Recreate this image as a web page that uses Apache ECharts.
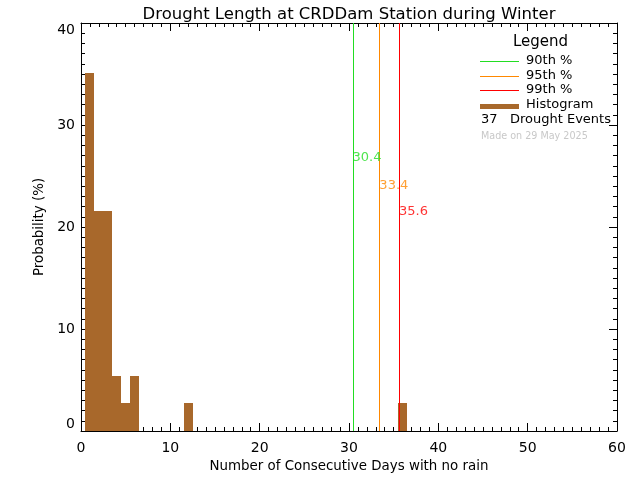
<!DOCTYPE html>
<html><head><meta charset="utf-8">
<script src="https://cdn.jsdelivr.net/npm/echarts@6/dist/echarts.min.js"></script>
<style>html,body{margin:0;padding:0;background:#fff}#c{width:640px;height:480px}</style>
</head><body><div id="c"></div>
<script>
const titleText = 'Drought Length at CRDDam Station during Winter';
const xName = 'Number of Consecutive Days with no rain';
const yName = 'Probability (%)';
const days = [1, 2, 3, 4, 5, 6, 12, 36];
const probs = [35.1, 21.6, 21.6, 5.4, 2.7, 5.4, 2.7, 2.7];
const pctNames = ['90th %', '95th %', '99th %'];
const pctValues = [30.4, 33.4, 35.6];
const pctColors = ['#22DD22', '#FF8800', '#FF0000'];
const pctLabelY = [26.8, 24.1, 21.5];
const eventCount = 37;
const madeOn = 'Made on 29 May 2025';

const FONT = 'DejaVu Sans';
const BROWN = '#A8682B';
const chart = echarts.init(document.getElementById('c'), null, {renderer: 'canvas'});

const series = [{
  type: 'custom',
  xAxisIndex: 0, yAxisIndex: 0,
  data: days.map((d, i) => [d, probs[i]]),
  renderItem: function (params, api) {
    const x = api.value(0), y = api.value(1);
    const p1 = api.coord([x - 0.5, y]);
    const p2 = api.coord([x + 0.5, 0]);
    const x1 = Math.round(p1[0]), x2 = Math.round(p2[0]);
    const y1 = Math.round(p1[1]), y2 = Math.round(p2[1]);
    return {type: 'rect', shape: {x: x1, y: y1, width: x2 - x1, height: y2 - y1},
      style: {fill: BROWN, stroke: null, lineWidth: 0}};
  },
  z: 2
}];
pctValues.forEach((v, i) => {
  series.push({
    type: 'custom', data: [[v]], silent: true, z: 3,
    itemStyle: {color: pctColors[i]},
    renderItem: function (params, api) {
      const top = api.coord([api.value(0), 40]);
      const bot = api.coord([api.value(0), 0]);
      const x = Math.round(top[0]) + 0.5;
      return {type: 'line', shape: {x1: x, y1: top[1], x2: x, y2: bot[1]},
        style: {stroke: pctColors[i], lineWidth: 1, fill: null}};
    }
  });
  series.push({
    type: 'scatter', data: [[v, pctLabelY[i]]], symbolSize: 0, silent: true,
    label: {show: true, position: 'right', distance: 0, formatter: v.toFixed(1),
      color: pctColors[i], fontFamily: FONT, fontSize: 13}, z: 4
  });
});

const tickStyle = {inside: true, length: 8, lineStyle: {color: '#000', width: 1}};
const minorStyle = {show: true, splitNumber: 10, length: 4, lineStyle: {color: '#000', width: 1}};
const axisLine = {show: true, onZero: false, lineStyle: {color: '#000', width: 1}};

const legendX = 480, legendTextX = 526;
const graphics = [
  {type: 'text', left: 513, top: 35, style: {text: 'Legend', font: '15px "' + FONT + '"', fill: '#000'}}
];
const rowY = [61, 76, 90];
pctNames.forEach((n, i) => {
  graphics.push({type: 'line', shape: {x1: legendX, y1: rowY[i] + 0.5, x2: 519, y2: rowY[i] + 0.5}, style: {stroke: pctColors[i], lineWidth: 1}});
  graphics.push({type: 'text', x: legendTextX, y: rowY[i], style: {text: n, font: '13px "' + FONT + '"', fill: '#000', textVerticalAlign: 'middle'}});
});
graphics.push({type: 'rect', shape: {x: legendX, y: 104, width: 39, height: 5}, style: {fill: BROWN}});
graphics.push({type: 'text', x: legendTextX, y: 105, style: {text: 'Histogram', font: '13px "' + FONT + '"', fill: '#000', textVerticalAlign: 'middle'}});
graphics.push({type: 'text', x: 481, y: 120, style: {text: eventCount + '   Drought Events', font: '13px "' + FONT + '"', fill: '#000', textVerticalAlign: 'middle'}});
graphics.push({type: 'text', x: 481, y: 136, style: {text: madeOn, font: '9.6px "' + FONT + '"', fill: '#C8C8C8', textVerticalAlign: 'middle'}});

chart.setOption({
  animation: false,
  backgroundColor: '#fff',
  title: {text: titleText, left: 344, top: 1, textAlign: 'center',
    textStyle: {fontFamily: FONT, fontSize: 16.5, fontWeight: 'normal', color: '#000'}},
  grid: {left: 81, right: 23, top: 23, bottom: 49, containLabel: false},
  xAxis: [
    {type: 'value', min: 0, max: 60, interval: 10, position: 'bottom',
     name: xName, nameLocation: 'middle', nameGap: 23,
     nameTextStyle: {fontFamily: FONT, fontSize: 13.4, color: '#000'},
     axisLine: axisLine, axisTick: tickStyle, minorTick: minorStyle, splitLine: {show: false},
     axisLabel: {color: '#000', fontFamily: FONT, fontSize: 14, margin: 10}},
    {type: 'value', min: 0, max: 60, interval: 10, position: 'top',
     axisLine: axisLine, axisTick: tickStyle, minorTick: minorStyle, splitLine: {show: false},
     axisLabel: {show: false}}
  ],
  yAxis: [
    {type: 'value', min: 0, max: 40, interval: 10, position: 'left',
     name: yName, nameLocation: 'middle', nameGap: 28, nameRotate: 90,
     nameTextStyle: {fontFamily: FONT, fontSize: 13.4, color: '#000'},
     axisLine: axisLine, axisTick: tickStyle, minorTick: minorStyle, splitLine: {show: false},
     axisLabel: {color: '#000', fontFamily: FONT, fontSize: 14, margin: 6,
       verticalAlignMinLabel: 'bottom', verticalAlignMaxLabel: 'top'}},
    {type: 'value', min: 0, max: 40, interval: 10, position: 'right',
     axisLine: axisLine, axisTick: tickStyle, minorTick: minorStyle, splitLine: {show: false},
     axisLabel: {show: false}}
  ],
  series: series,
  graphic: graphics
});
</script></body></html>
